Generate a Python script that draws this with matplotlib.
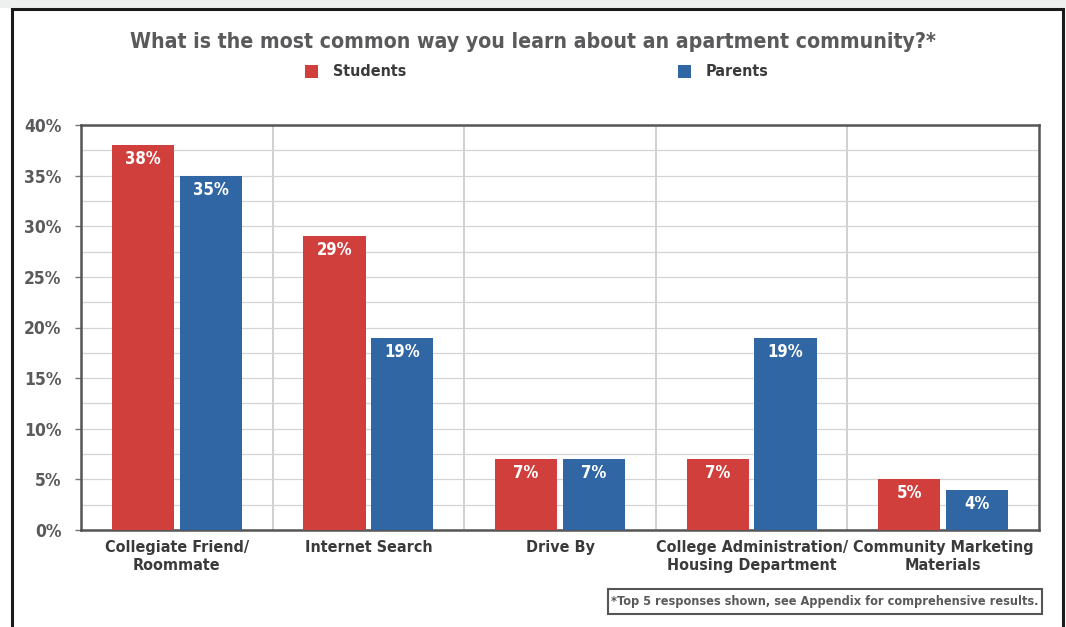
import matplotlib.pyplot as plt
import numpy as np
from matplotlib.patches import Rectangle

categories = ['Collegiate Friend/\nRoommate', 'Internet Search', 'Drive By',
              'College Administration/\nHousing Department', 'Community Marketing\nMaterials']
students = [38, 29, 7, 7, 5]
parents = [35, 19, 7, 19, 4]
yticks = [0, 5, 10, 15, 20, 25, 30, 35, 40]

red = '#d13f3d'
blue = '#2f66a3'
gray_txt = '#5a5a5c'
dark_txt = '#3a3a3a'

plt.rcParams['font.family'] = ['DejaVu Sans']
plt.rcParams['font.stretch'] = 'condensed'

fig = plt.figure(figsize=(10.66, 6.27), dpi=100)
fig.patch.set_facecolor('white')

# pale strip above the frame, then the black frame around everything
fig.patches.append(Rectangle((0, 1 - 8 / 627), 1, 8 / 627, transform=fig.transFigure,
                             facecolor='#eef0f0', edgecolor='none', zorder=0))
fig.patches.append(Rectangle((12 / 1066, -0.05), (1063 - 12) / 1066, 1.05 - 9 / 627,
                             transform=fig.transFigure, facecolor='none',
                             edgecolor='#1a1a1a', linewidth=2.2, zorder=1))

ax = fig.add_axes([81 / 1066, 1 - 530 / 627, (1039 - 81) / 1066, (530 - 125) / 627])
ax.set_facecolor('none')

x = np.arange(len(categories))
w = 0.324
off = 0.177
ax.bar(x - off, students, w, color=red, zorder=3)
ax.bar(x + off, parents, w, color=blue, zorder=3)

for xi, s, p in zip(x, students, parents):
    ax.text(xi - off, s - 0.5, f'{s}%', ha='center', va='top', color='white',
            fontsize=12, fontweight='bold', zorder=4)
    ax.text(xi + off, p - 0.5, f'{p}%', ha='center', va='top', color='white',
            fontsize=12, fontweight='bold', zorder=4)

ax.set_xlim(-0.5, len(categories) - 0.5)
ax.set_ylim(0, 40)
ax.set_yticks(yticks)
ax.set_yticklabels([f'{t}%' for t in yticks], color=gray_txt, fontsize=12.5, fontweight='bold')
ax.set_yticks(np.arange(0, 40, 2.5), minor=True)
ax.yaxis.grid(True, which='both', color='#d4d4d4', linewidth=0.9, zorder=1)
ax.tick_params(axis='y', which='major', length=4, width=1, color='#777777', pad=10)
ax.tick_params(axis='y', which='minor', length=0)

# category separators
for b in np.arange(0.5, len(categories) - 0.5, 1.0):
    ax.axvline(b, color='#c8c8c8', linewidth=1.2, zorder=1)

ax.set_xticks(x)
ax.set_xticklabels(categories, color=dark_txt, fontsize=11.5, fontweight='bold',
                   linespacing=1.3)
ax.tick_params(axis='x', length=0, pad=7)

for sp in ax.spines.values():
    sp.set_color('#555555')
    sp.set_linewidth(1.8)

fig.text(533 / 1066, 1 - 42 / 627, 'What is the most common way you learn about an apartment community?*',
         ha='center', va='center', color=gray_txt, fontsize=15.2, fontweight='bold')

# legend entries
fig.patches.append(Rectangle((305 / 1066, 1 - 78 / 627), 13 / 1066, 13 / 627,
                             transform=fig.transFigure, facecolor=red, edgecolor='none', zorder=2))
fig.text(333 / 1066, 1 - 71 / 627, 'Students', ha='left', va='center', color=dark_txt,
         fontsize=11.5, fontweight='bold')
fig.patches.append(Rectangle((678 / 1066, 1 - 78 / 627), 13 / 1066, 13 / 627,
                             transform=fig.transFigure, facecolor=blue, edgecolor='none', zorder=2))
fig.text(706 / 1066, 1 - 71 / 627, 'Parents', ha='left', va='center', color=dark_txt,
         fontsize=11.5, fontweight='bold')

# footnote box
fig.patches.append(Rectangle((608 / 1066, 1 - 614 / 627), (1042 - 608) / 1066, 25 / 627,
                             transform=fig.transFigure, facecolor='white',
                             edgecolor='#555555', linewidth=1.5, zorder=2))
fig.text(825 / 1066, 1 - 602 / 627, '*Top 5 responses shown, see Appendix for comprehensive results.',
         ha='center', va='center', color=gray_txt, fontsize=9.1, fontweight='bold')

fig.savefig('out.png', dpi=100)
